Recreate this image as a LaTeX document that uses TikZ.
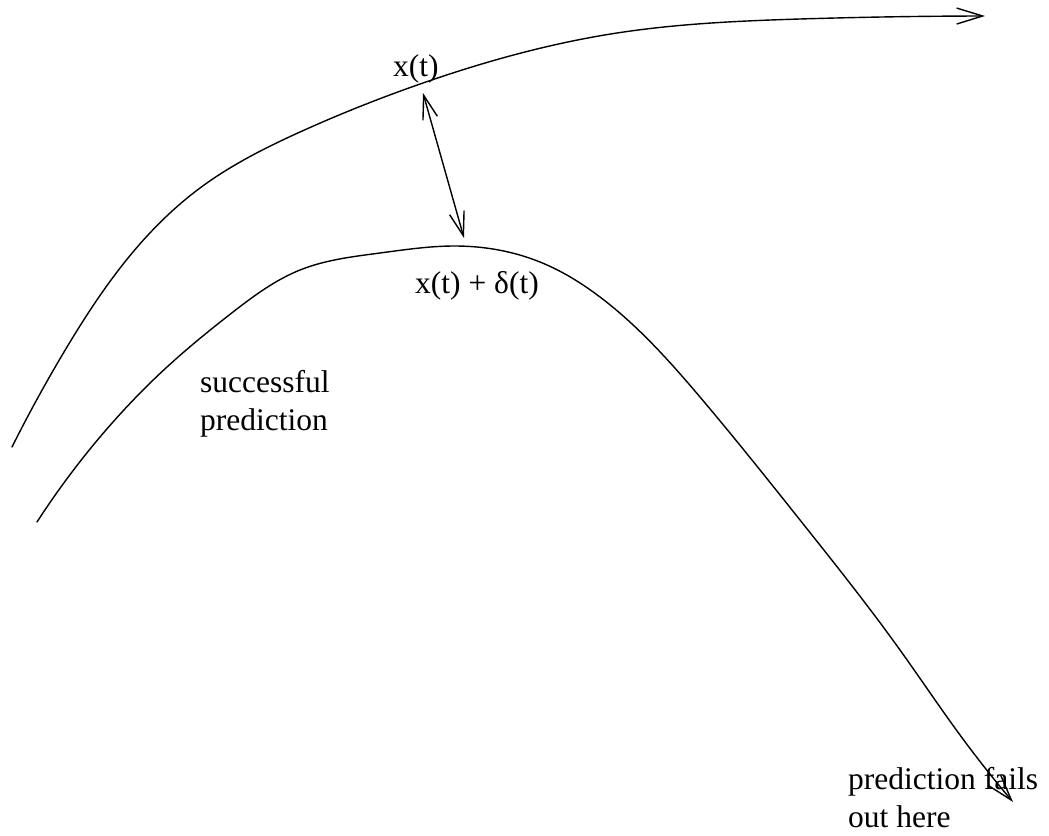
\documentclass[tikz,border=0pt]{standalone}
\usepackage{fontspec}
\setmainfont{Liberation Serif}
\usetikzlibrary{arrows.meta,hobby}
\begin{document}
\begin{tikzpicture}[x=1pt,y=-1pt,
  curve/.style={line width=1.4pt,line cap=round},
  tipbarb/.style={-{Straight Barb[length=26pt,width=16pt,line width=1.4pt]}},
  lbl/.style={inner sep=0pt,anchor=base west,align=left,font=\fontsize{31.5}{37.5}\selectfont}]
\useasboundingbox (0,0) rectangle (1049,835);
% labels
\node[lbl] (xt) at (393,76) {x(t)};
\node[lbl] (xd) at (415,293) {x(t) + δ(t)};
\node[lbl] (sp) at (200,430) {successful\\prediction};
\node[lbl] (pf) at (848,827) {prediction fails\\out here};
% true trajectory
\draw[curve,tipbarb,use Hobby shortcut]
  (12,447) .. (67,347) .. (133,252) .. (200,188) .. (300,132) .. (423,83)
  .. (617,33) .. (800,19) .. (985,16);
% predicted trajectory
\draw[curve,tipbarb,use Hobby shortcut]
  (37,522) .. (100,437) .. (167,367) .. (233,312) .. (300,270) .. (380,253)
  .. (455,246) .. (540,262) .. (600,297) .. (700,397) .. (800,520)
  .. (900,650) .. (960,735) .. (1013,802);
% separation
\coordinate (a) at (423,93);
\coordinate (b) at (464,238);
\draw[curve,{Straight Barb[length=24pt,width=15pt,line width=1.4pt]}-{Straight Barb[length=24pt,width=15pt,line width=1.4pt]}] (a) -- (b);
\end{tikzpicture}
\end{document}
